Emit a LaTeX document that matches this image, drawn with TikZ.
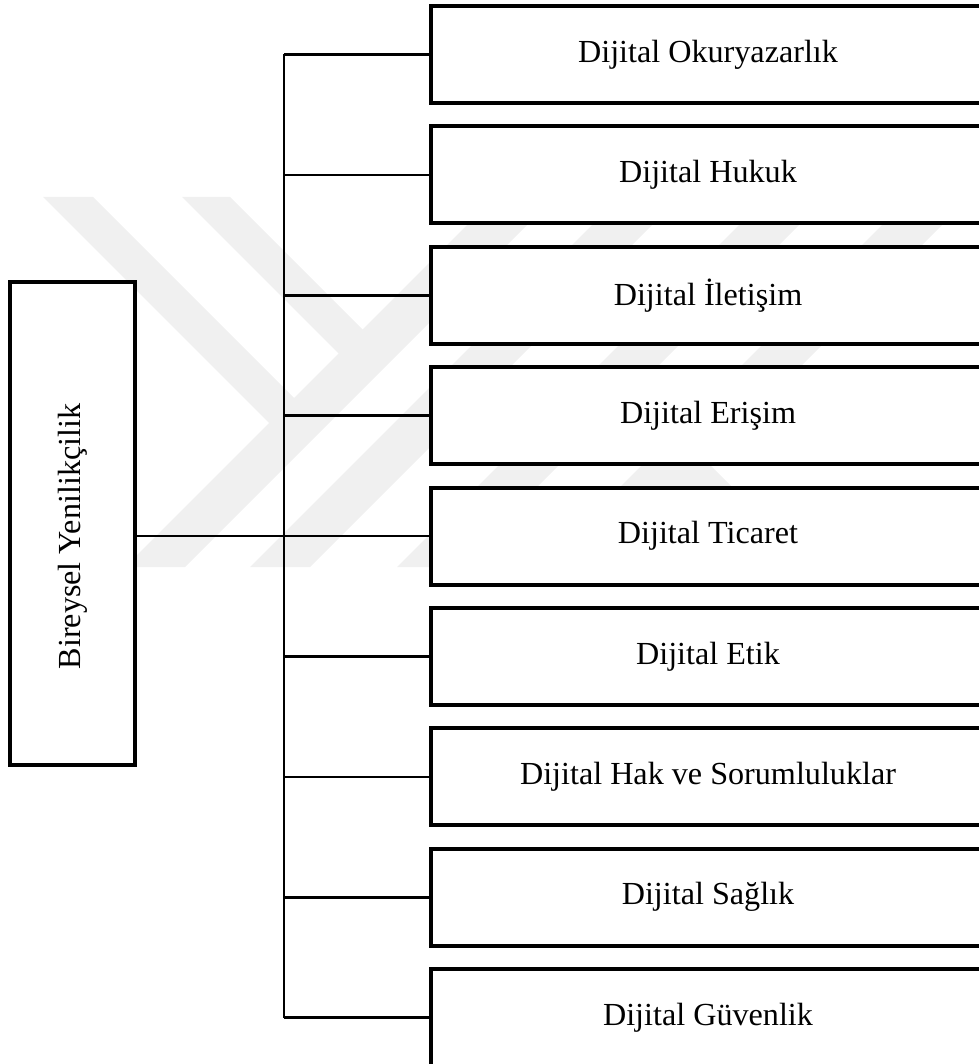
\documentclass[tikz,border=0pt]{standalone}
\usepackage{fontspec}
\setmainfont{Liberation Serif}
\usetikzlibrary{positioning}
\tikzset{
    altbox/.style={draw, fill=white, line width=2.3pt, minimum width=11.08cm, minimum height=1.94cm, inner sep=0pt}, % sağdaki kutular
    anabox/.style={draw, fill=white, line width=2.2pt, minimum width=2.5cm, minimum height=9.66cm, inner sep=0pt}, % soldaki ana kutu
    baglanti/.style={line width=1.4pt},
    filigran/.style={fill=black!6}
}

\begin{document}
\begin{tikzpicture}[x=0.02cm, y=-0.02cm, font=\fontsize{18.3}{22}\selectfont]
    \useasboundingbox (0,0) rectangle (979,1064);
    \clip (0,0) rectangle (979,1064);

    % filigran (soluk arka plan)
    \foreach \s in {722,847,994,1137} {
        \fill[filigran] (\s-567-30,567) -- (\s-567+30,567) -- (\s-197+30,197) -- (\s-197-30,197) -- cycle;
    }
    \fill[filigran] (43,197) -- (93,197) -- (321,425) -- (271,425) -- cycle;
    \fill[filigran] (182,197) -- (230,197) -- (389,356) -- (341,356) -- cycle;
    \fill[filigran] (582,387) -- (632,387) -- (812,567) -- (762,567) -- cycle;

    \foreach \ad [count=\i] in {Dijital Okuryazarlık, Dijital Hukuk, Dijital İletişim, Dijital Erişim, Dijital Ticaret, Dijital Etik, Dijital Hak ve Sorumluluklar, Dijital Sağlık, Dijital Güvenlik} {
        \coordinate (t\i) at (284, {54.5+120.4*(\i-1)});
        \node[altbox] (d\i) at (708, {54.5+120.4*(\i-1)}) {\ad};
        \draw[baglanti] (t\i) -- (d\i.west);
    }
    \draw[baglanti] (t1) -- (t9);

    \node[anabox] (b) at (72.5, 523.5) {\rotatebox{90}{Bireysel Yenilikçilik\hspace{0.52cm}}};
    \draw[baglanti] (b.east |- d5.west) -- (d5.west);
\end{tikzpicture}
\end{document}
